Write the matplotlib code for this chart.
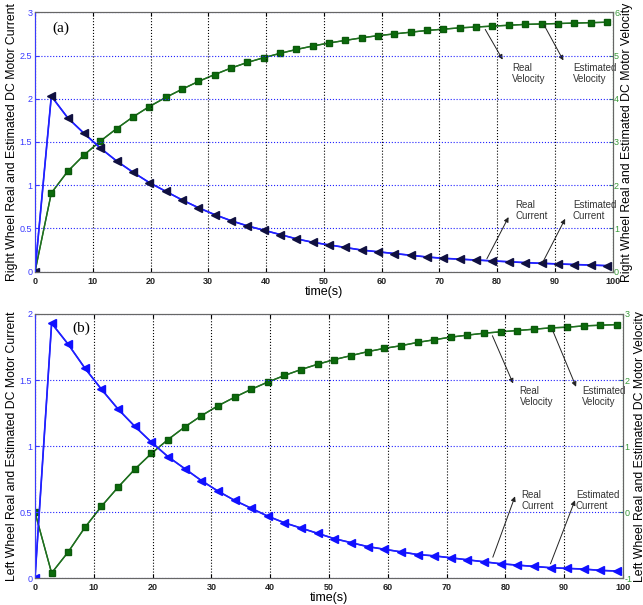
import numpy as np
import matplotlib.pyplot as plt

plt.rcParams['font.family'] = ['Liberation Sans', 'DejaVu Sans']

# sample times (s)
t = [0, 2.83, 5.66, 8.49, 11.31, 14.14, 16.97, 19.8, 22.63, 25.46, 28.29, 31.11,
     33.94, 36.77, 39.6, 42.43, 45.26, 48.09, 50.91, 53.74, 56.57, 59.4, 62.23, 65.06,
     67.89, 70.71, 73.54, 76.37, 79.2, 82.03, 84.86, 87.69, 90.51, 93.34, 96.17, 99.0]

# (a) right wheel
cur_a = [0, 2.03, 1.78, 1.6, 1.43, 1.28, 1.15, 1.03, 0.93, 0.83, 0.74, 0.66,
         0.59, 0.53, 0.48, 0.43, 0.38, 0.34, 0.31, 0.28, 0.25, 0.23, 0.21, 0.19,
         0.17, 0.155, 0.145, 0.135, 0.125, 0.115, 0.105, 0.097, 0.09, 0.083, 0.077, 0.07]
vel_a = [0, 1.82, 2.32, 2.7, 3.02, 3.31, 3.58, 3.82, 4.03, 4.22, 4.4, 4.56,
         4.71, 4.84, 4.95, 5.05, 5.14, 5.22, 5.29, 5.35, 5.41, 5.46, 5.5, 5.54,
         5.58, 5.61, 5.64, 5.66, 5.68, 5.7, 5.72, 5.73, 5.74, 5.75, 5.76, 5.77]

# (b) left wheel
cur_b = [0, 1.93, 1.77, 1.59, 1.43, 1.28, 1.15, 1.03, 0.92, 0.83, 0.74, 0.66,
         0.59, 0.53, 0.47, 0.42, 0.38, 0.34, 0.3, 0.27, 0.24, 0.22, 0.2, 0.18,
         0.17, 0.155, 0.14, 0.125, 0.11, 0.1, 0.09, 0.08, 0.075, 0.07, 0.06, 0.055]
vel_b = [0, -0.92, -0.6, -0.23, 0.09, 0.38, 0.65, 0.89, 1.1, 1.29, 1.46, 1.61,
         1.74, 1.86, 1.97, 2.07, 2.16, 2.24, 2.31, 2.37, 2.43, 2.48, 2.52, 2.57,
         2.61, 2.65, 2.68, 2.71, 2.73, 2.75, 2.77, 2.79, 2.8, 2.82, 2.83, 2.84]

fig = plt.figure(figsize=(6.43, 6.05), dpi=100)


def panel(rect, cur, vel, ylim_l, ylim_r, yt_l, yt_r, tag, tagpos, side, ann, tri_col):
    ax = fig.add_axes(rect)
    ax2 = ax.twinx()
    ax.set_zorder(ax2.get_zorder() + 1)
    ax.patch.set_visible(False)

    # velocity (right axis): real and estimated overlap
    ax2.plot(t, vel, color='#1f6f1f', lw=1.0)
    ax2.plot(t, vel, color='#1f6f1f', lw=1.0, marker='s', ms=5,
             markerfacecolor='#0b6b0b', markeredgecolor='#0b5a0b')
    # current (left axis)
    ax.plot(t, cur, color='#2020ff', lw=1.0)
    ax.plot(t, cur, color='#2020ff', lw=1.2, marker='<', ms=5.5,
            markerfacecolor=tri_col, markeredgecolor=tri_col)

    ax.set_xlim(0, 100)
    ax.set_ylim(*ylim_l)
    ax2.set_ylim(*ylim_r)
    ax.set_xticks(range(0, 101, 10))
    ax.set_yticks(yt_l)
    ax2.set_yticks(yt_r)
    ax.set_yticklabels([f'{v:g}' for v in yt_l])
    ax2.set_yticklabels([f'{v:g}' for v in yt_r])

    ax.xaxis.grid(True, color='black', ls=':', lw=0.8)
    ax.yaxis.grid(True, color='#2020ff', ls=':', lw=0.8)
    ax.tick_params(axis='x', direction='in', labelsize=6.5, length=3,
                   labelcolor='#222222', top=True)
    for lab in ax.get_xticklabels():
        lab.set_fontweight('bold')
    ax.tick_params(axis='y', direction='in', labelsize=6.5, length=3,
                   colors='#3a3aff', pad=2)
    ax2.tick_params(axis='y', direction='in', labelsize=6.5, length=3,
                    colors='#3a9a3a', pad=1)
    for a in (ax, ax2):
        for s in a.spines.values():
            s.set_color('#666666')
    ax2.spines['right'].set_color('#3a9a3a')
    ax.spines['left'].set_color('#3a3aff')

    ax.set_xlabel('time(s)', fontsize=9, labelpad=0)
    ax.set_ylabel(side + ' Wheel Real and Estimated DC Motor Current', fontsize=8.8, labelpad=1)
    ax2.set_ylabel(side + ' Wheel Real and Estimated DC Motor Velocity', fontsize=8.8, labelpad=1)

    ax.text(tagpos[0], tagpos[1], tag, family='Liberation Serif', fontsize=11,
            va='center', ha='left')

    arr = dict(arrowstyle='-|>', color='#222222', lw=0.7, mutation_scale=7)
    for (axis, xy, xytext, txt) in ann:
        target = ax2 if axis == 'r' else ax
        target.annotate('', xy=xytext, xytext=xy, arrowprops=arr)
    return ax, ax2


ann_a = [
    ('r', (77.7, 5.66), (81.2, 4.85), 'Real\nVelocity'),
    ('r', (87.9, 5.76), (91.7, 4.83), 'Estimated\nVelocity'),
    ('l', (78.0, 0.12), (82.2, 0.66), 'Real\nCurrent'),
    ('l', (87.6, 0.07), (92.0, 0.64), 'Estimated\nCurrent'),
]
ax_a, ax_a2 = panel([0.0544, 0.5509, 0.8984, 0.4288], cur_a, vel_a, (0, 3), (0, 6),
                    [0, 0.5, 1, 1.5, 2, 2.5, 3], [0, 1, 2, 3, 4, 5, 6],
                    '(a)', (3.0, 2.82), 'Right', ann_a, '#101040')
ax_a2.text(82.6, 4.83, 'Real\nVelocity', fontsize=7, color='#333333', va='top', linespacing=1.1)
ax_a2.text(93.1, 4.83, 'Estimated\nVelocity', fontsize=7, color='#333333', va='top', linespacing=1.1)
ax_a.text(83.1, 0.83, 'Real\nCurrent', fontsize=7, color='#333333', va='top', linespacing=1.1)
ax_a.text(93.1, 0.83, 'Estimated\nCurrent', fontsize=7, color='#333333', va='top', linespacing=1.1)

ann_b = [
    ('r', (77.6, 2.71), (81.5, 1.91), 'Real\nVelocity'),
    ('r', (87.9, 2.78), (92.2, 1.86), 'Estimated\nVelocity'),
    ('l', (77.7, 0.14), (81.8, 0.64), 'Real\nCurrent'),
    ('l', (87.5, 0.09), (92.0, 0.61), 'Estimated\nCurrent'),
]
ax_b, ax_b2 = panel([0.0544, 0.0441, 0.9145, 0.4369], cur_b, vel_b, (0, 2), (-1, 3),
                    [0, 0.5, 1, 1.5, 2], [-1, 0, 1, 2, 3],
                    '(b)', (6.3, 1.89), 'Left', ann_b, '#1010ff')
ax_b2.text(82.4, 1.91, 'Real\nVelocity', fontsize=7, color='#333333', va='top', linespacing=1.1)
ax_b2.text(93.0, 1.91, 'Estimated\nVelocity', fontsize=7, color='#333333', va='top', linespacing=1.1)
ax_b.text(82.7, 0.67, 'Real\nCurrent', fontsize=7, color='#333333', va='top', linespacing=1.1)
ax_b.text(92.0, 0.67, 'Estimated\nCurrent', fontsize=7, color='#333333', va='top', linespacing=1.1)

fig.savefig('out.png', dpi=100)
